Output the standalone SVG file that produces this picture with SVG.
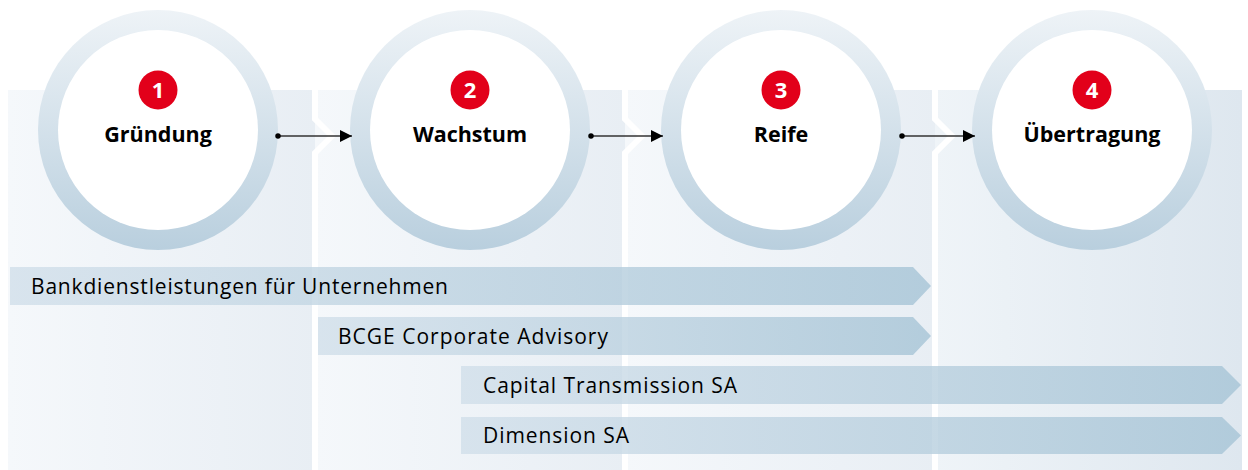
<svg xmlns="http://www.w3.org/2000/svg" width="1248" height="470" viewBox="0 0 1248 470">
  <defs>
    <linearGradient id="panelGrad" x1="0" y1="0" x2="1" y2="0">
      <stop offset="0" stop-color="#f5f8fb"/>
      <stop offset="1" stop-color="#e8eef4"/>
    </linearGradient>
    <linearGradient id="panelGrad4" x1="0" y1="0" x2="1" y2="0">
      <stop offset="0" stop-color="#eff4f8"/>
      <stop offset="1" stop-color="#dee7ef"/>
    </linearGradient>
    <linearGradient id="ringGrad" x1="0" y1="0" x2="0" y2="1">
      <stop offset="0" stop-color="#eef3f7"/>
      <stop offset="1" stop-color="#b9cfde"/>
    </linearGradient>
    <linearGradient id="barGrad" x1="0" y1="0" x2="1" y2="0">
      <stop offset="0" stop-color="#d1dfea"/>
      <stop offset="1" stop-color="#a6c4d6"/>
    </linearGradient>
    <marker id="arrowHead" viewBox="0 0 12 12" refX="12" refY="6" markerWidth="12" markerHeight="12" markerUnits="userSpaceOnUse" orient="auto">
      <path d="M0,0 L12,6 L0,12 Z" fill="#000"/>
    </marker>
    <marker id="dotStart" viewBox="0 0 6 6" refX="3" refY="3" markerWidth="5.5" markerHeight="5.5" markerUnits="userSpaceOnUse">
      <circle cx="3" cy="3" r="3" fill="#000"/>
    </marker>
  </defs>
  <style>
    .ring { fill: url(#ringGrad); }
    .inner { fill: #ffffff; }
    .badge { fill: #e2001a; }
    .num { font-family: "Open Sans", "Liberation Sans", sans-serif; font-weight: 700; font-size: 22px; fill: #ffffff; text-anchor: middle; }
    .title { font-family: "Open Sans", "Liberation Sans", sans-serif; font-weight: 700; font-size: 21.5px; fill: #000000; text-anchor: middle; }
    .bar { fill: url(#barGrad); fill-opacity: 0.8; }
    .barText { font-family: "Open Sans", "Liberation Sans", sans-serif; font-size: 21px; fill: #000000; }
    .sep { fill: none; stroke: #ffffff; stroke-width: 6; stroke-linejoin: miter; }
    .conn { fill: none; stroke: #333333; stroke-width: 1.5; marker-start: url(#dotStart); marker-end: url(#arrowHead); }
  </style>

  <g id="background">
    <rect x="8" y="90" width="307" height="380" fill="url(#panelGrad)"/>
    <rect x="315" y="90" width="310" height="380" fill="url(#panelGrad)"/>
    <rect x="625" y="90" width="310" height="380" fill="url(#panelGrad)"/>
    <rect x="935" y="90" width="307" height="380" fill="url(#panelGrad4)"/>
    <polyline class="sep" points="315,90 315,119 332,136 315,153 315,470"/>
    <polyline class="sep" points="625,90 625,119 642,136 625,153 625,470"/>
    <polyline class="sep" points="935,90 935,119 952,136 935,153 935,470"/>
  </g>

  <g id="bar-bankdienstleistungen">
    <polygon class="bar" points="10,267 913,267 931,286 913,305 10,305"/>
    <text class="barText" x="31" y="294" textLength="417" lengthAdjust="spacing">Bankdienstleistungen für Unternehmen</text>
  </g>
  <g id="bar-bcge">
    <polygon class="bar" points="318,317 913,317 931,336 913,355 318,355"/>
    <text class="barText" x="338" y="344" textLength="270" lengthAdjust="spacing">BCGE Corporate Advisory</text>
  </g>
  <g id="bar-capital">
    <polygon class="bar" points="461,366 1222,366 1241,385 1222,404 461,404"/>
    <text class="barText" x="483" y="393" textLength="254" lengthAdjust="spacing">Capital Transmission SA</text>
  </g>
  <g id="bar-dimension">
    <polygon class="bar" points="461,417 1222,417 1241,435.5 1222,454 461,454"/>
    <text class="barText" x="483" y="443" textLength="146" lengthAdjust="spacing">Dimension SA</text>
  </g>

  <g id="node-gruendung">
    <circle class="ring" cx="158" cy="130" r="120"/>
    <circle class="inner" cx="158" cy="130" r="100"/>
    <circle class="badge" cx="158" cy="90" r="19.5"/>
    <text class="num" x="158" y="98">1</text>
    <text class="title" x="158" y="142">Gründung</text>
  </g>
  <g id="node-wachstum">
    <circle class="ring" cx="470" cy="130" r="120"/>
    <circle class="inner" cx="470" cy="130" r="100"/>
    <circle class="badge" cx="470" cy="90" r="19.5"/>
    <text class="num" x="470" y="98">2</text>
    <text class="title" x="470" y="142">Wachstum</text>
  </g>
  <g id="node-reife">
    <circle class="ring" cx="781" cy="130" r="120"/>
    <circle class="inner" cx="781" cy="130" r="100"/>
    <circle class="badge" cx="781" cy="90" r="19.5"/>
    <text class="num" x="781" y="98">3</text>
    <text class="title" x="781" y="142">Reife</text>
  </g>
  <g id="node-uebertragung">
    <circle class="ring" cx="1092" cy="130" r="120"/>
    <circle class="inner" cx="1092" cy="130" r="100"/>
    <circle class="badge" cx="1092" cy="90" r="19.5"/>
    <text class="num" x="1092" y="98">4</text>
    <text class="title" x="1092" y="142">Übertragung</text>
  </g>

  <g id="connectors">
    <line class="conn" x1="278" y1="136" x2="352" y2="136"/>
    <line class="conn" x1="591" y1="136" x2="663" y2="136"/>
    <line class="conn" x1="902" y1="136" x2="975" y2="136"/>
  </g>
</svg>
